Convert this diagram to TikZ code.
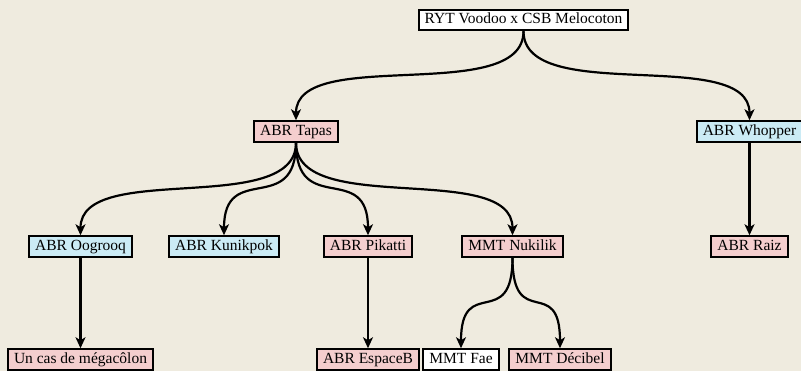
\documentclass[tikz,border=0pt]{standalone}
\usepackage{fontspec}
\setmainfont{Liberation Serif}
\usetikzlibrary{arrows.meta}
\definecolor{hintergrund}{HTML}{EFEBDF}
\definecolor{rosa}{HTML}{F4CECE}
\definecolor{hellblau}{HTML}{CBEBF5}

\begin{document}
\begin{tikzpicture}[x=1pt, y=-1pt,
    box/.style={draw, line width=2pt, inner xsep=6pt, inner ysep=3pt,
      text height=11pt, text depth=3.5pt, font=\fontsize{15.5}{18}\selectfont},
    rosabox/.style={box, fill=rosa},
    blaubox/.style={box, fill=hellblau},
    weissbox/.style={box, fill=white},
    pfeil/.style={line width=2.2pt, -{Stealth[length=11pt, width=10pt, inset=3pt]}}]

    % Hintergrund
    \fill[hintergrund] (0,0) rectangle (801,371);
    \useasboundingbox (0,0) rectangle (801,371);

    % Knoten
    \node[weissbox] (voodoo) at (523.5,20) {RYT Voodoo x CSB Melocoton};
    \node[rosabox] (tapas) at (296,131.5) {ABR Tapas};
    \node[blaubox] (whopper) at (749.5,131.5) {ABR Whopper};
    \node[blaubox] (oogrooq) at (80.5,246.5) {ABR Oogrooq};
    \node[blaubox] (kunikpok) at (224,246.5) {ABR Kunikpok};
    \node[rosabox] (pikatti) at (368,246.5) {ABR Pikatti};
    \node[rosabox] (nukilik) at (512.5,246.5) {MMT Nukilik};
    \node[rosabox] (raiz) at (749.5,246.5) {ABR Raiz};
    \node[rosabox] (megacolon) at (80.5,359.5) {Un cas de mégacôlon};
    \node[rosabox] (espaceb) at (368,359.5) {ABR EspaceB};
    \node[weissbox] (fae) at (461,359.5) {MMT Fae};
    \node[rosabox] (decibel) at (560,359.5) {MMT Décibel};

    % Kanten (gebogen)
    \foreach \von/\nach in {voodoo/tapas, voodoo/whopper, tapas/oogrooq, tapas/kunikpok,
      tapas/pikatti, tapas/nukilik, nukilik/fae, nukilik/decibel}
      \draw[pfeil] (\von.south) .. controls +(0,75) and +(0,-75) .. (\nach.north);

    % Kanten (gerade)
    \foreach \von/\nach in {oogrooq/megacolon, pikatti/espaceb, whopper/raiz}
      \draw[pfeil] (\von.south) -- (\nach.north);

  \end{tikzpicture}
\end{document}
